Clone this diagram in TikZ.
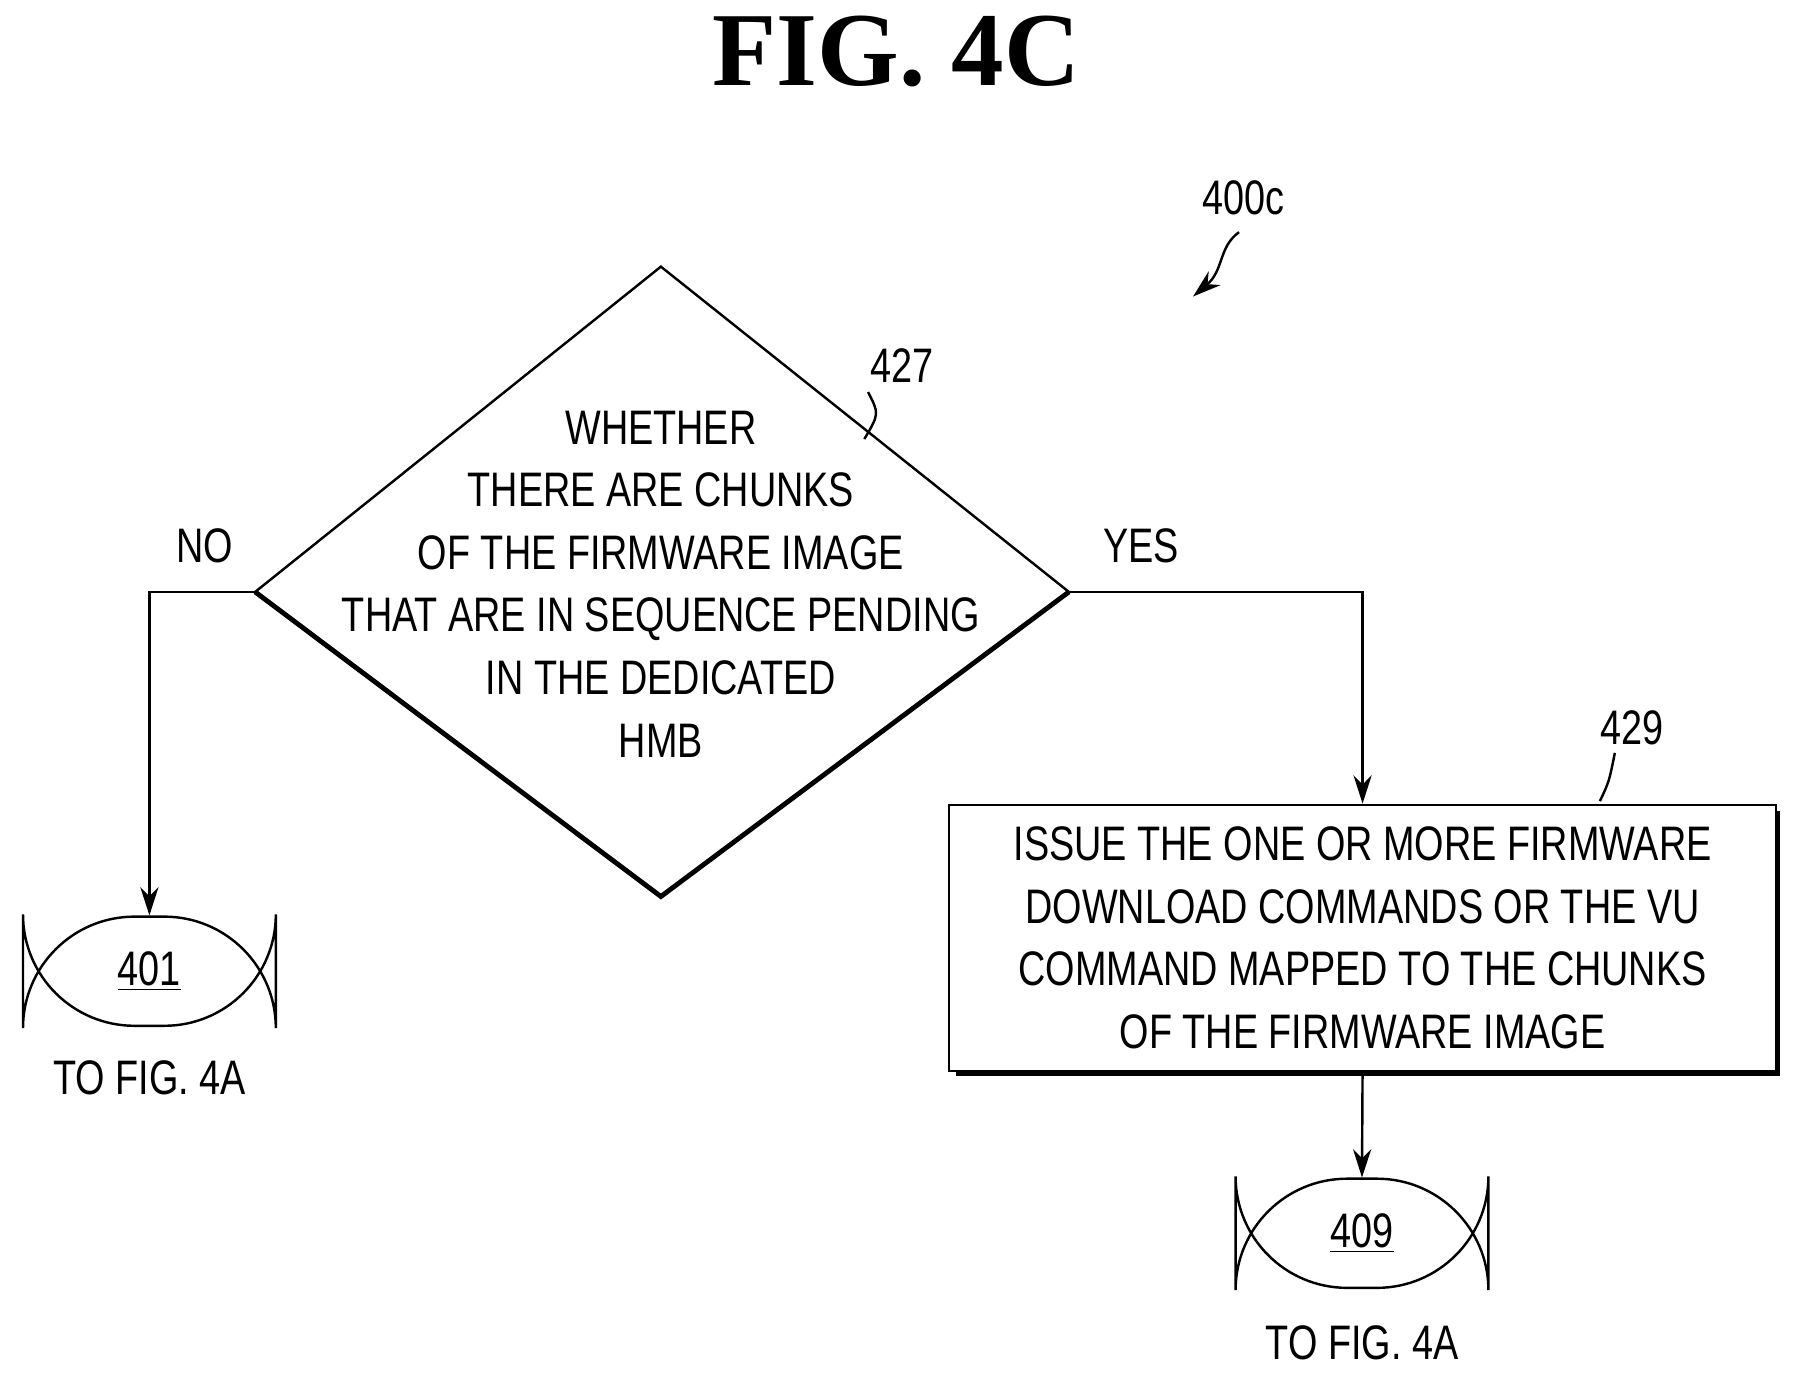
\documentclass[tikz,border=0pt]{standalone}
\usepackage{fontspec}
\setmainfont{Liberation Serif}
\newfontfamily\nar[FakeStretch=0.78]{Liberation Sans}
\usetikzlibrary{arrows.meta,shapes.geometric}
\begin{document}
\begin{tikzpicture}[x=0.02cm,y=-0.02cm,
  txt/.style={font=\nar\fontsize{24}{31}\selectfont,align=center,inner sep=0pt},
  line/.style={line width=1.2pt},
  arr/.style={line,-{Stealth[length=14pt,width=9pt]}},
  term/.style={draw,line width=1.2pt,rounded corners=46\pgflinewidth,minimum width=4.4cm,minimum height=1.9cm,txt}]
\useasboundingbox (0,0) rectangle (1560,1197);
\node[font=\bfseries\fontsize{52}{60}\selectfont] (title) at (780,45) {FIG. 4C};
\node[txt] (ref) at (1082,172) {400c};
\coordinate (r1) at (1078,202);
\coordinate (r2) at (1038,258);
\draw[arr] (r1) .. controls (1060,215) and (1065,235) .. (r2);
% diamond
\coordinate (dT) at (575,232);
\coordinate (dL) at (222,515);
\coordinate (dR) at (930,515);
\coordinate (dB) at (575,780);
\draw[line] (dL) -- (dT) -- (dR);
\draw[line width=2.4pt] (dR) -- (dB) -- (dL);
\node[txt] (dtext) at (575,508) {WHETHER\\THERE ARE CHUNKS\\OF THE FIRMWARE IMAGE\\THAT ARE IN SEQUENCE PENDING\\IN THE DEDICATED\\HMB};
\node[txt] (l427) at (785,318) {427};
\coordinate (a427) at (752,382);
\draw[line] (l427.south west) ++(-2,8) .. controls (765,360) .. (a427);
\node[txt] (no) at (178,475) {NO};
\node[txt] (yes) at (993,475) {YES};
% terminals
\node[term] (t401) at (130,845) {\underline{401}};
\node[txt] (f401) at (130,938) {TO FIG. 4A};
\node[term] (t409) at (1185,1073) {\underline{409}};
\node[txt] (f409) at (1185,1168) {TO FIG. 4A};
% box
\fill (832,706) rectangle (1549,936);
\node[draw,fill=white,line width=1pt,minimum width=14.38cm,minimum height=4.64cm,txt] (b429) at (1185.5,816) {ISSUE THE ONE OR MORE FIRMWARE\\DOWNLOAD COMMANDS OR THE VU\\COMMAND MAPPED TO THE CHUNKS\\OF THE FIRMWARE IMAGE};
\node[txt] (l429) at (1420,633) {429};
\coordinate (a429) at (1392,697);
\draw[line] (1405,655) .. controls (1400,680) .. (a429);
% connectors
\draw[arr] (dL) -| (t401.north);
\draw[arr] (dR) -| (b429.north);
\draw[arr] (b429.south) -- (t409.north);
\end{tikzpicture}
\end{document}
